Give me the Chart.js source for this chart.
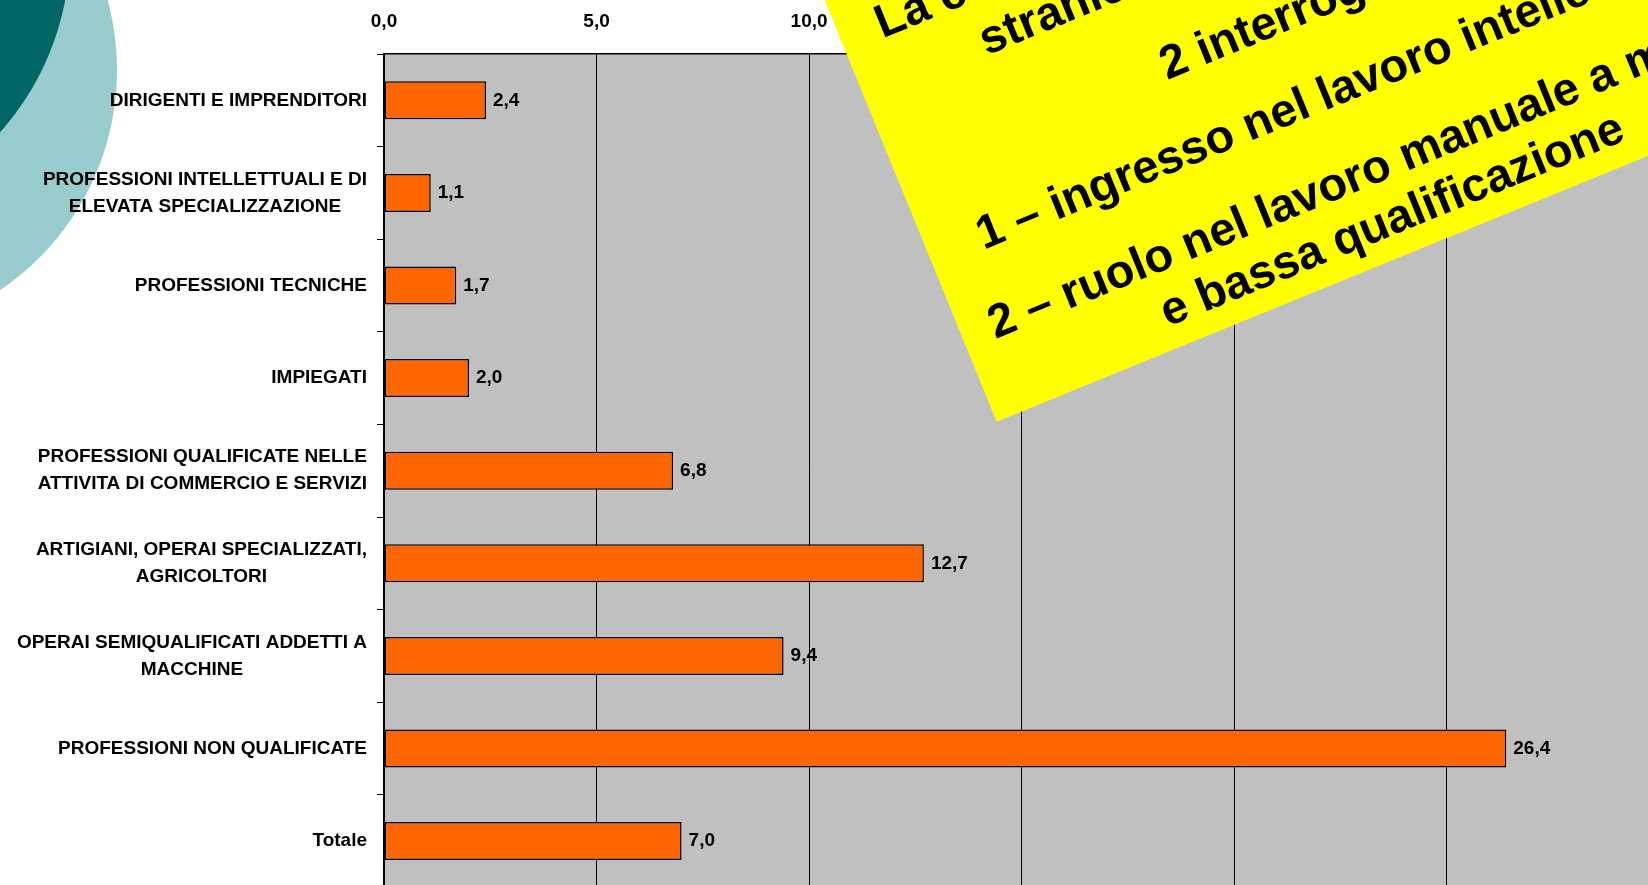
<!DOCTYPE html>
<html>
<head>
<meta charset="utf-8">
<script src="https://cdn.jsdelivr.net/npm/chart.js@4"></script>
<style>
    html, body { margin: 0; padding: 0; background: #fff; overflow: hidden; }
    #wrap { position: absolute; left: 0; top: 0; width: 1700px; height: 900px; }
</style>
</head>
<body>
<div id="wrap"><canvas id="chart"></canvas></div>
<script>
const categories = [
    "DIRIGENTI E IMPRENDITORI",
    ["PROFESSIONI INTELLETTUALI E DI", "ELEVATA SPECIALIZZAZIONE"],
    "PROFESSIONI TECNICHE",
    "IMPIEGATI",
    ["PROFESSIONI QUALIFICATE NELLE", "ATTIVITA DI COMMERCIO E SERVIZI"],
    ["ARTIGIANI, OPERAI SPECIALIZZATI,", "AGRICOLTORI"],
    ["OPERAI SEMIQUALIFICATI ADDETTI A", "MACCHINE"],
    "PROFESSIONI NON QUALIFICATE",
    "Totale",
];
const values = [2.4, 1.1, 1.7, 2.0, 6.8, 12.7, 9.4, 26.4, 7.0];
const xTicks = [0, 5, 10, 15, 20, 25, 30];

// testo del riquadro giallo: [riga, distanza dal bordo sinistro, altezza della linea di base]
const noteLines = [
    ["La condizione occupazionale degli", 39, 398],
    ["stranieri in Italia solleva", 129, 343],
    ["2 interrogativi:", 287, 252],
    ["1 \u2013 ingresso nel lavoro intellettuale", 53, 164],
    ["2 \u2013 ruolo nel lavoro manuale a media", 30, 77],
    ["e bassa qualificazione", 194, 23],
];

const FONT = "'Liberation Sans', Arial, sans-serif";
const fmt = (v) => v.toFixed(1).replace(".", ",");

const background = {
    id: "background",
    beforeDraw(chart) {
        const { ctx, chartArea } = chart;
        ctx.save();
        ctx.fillStyle = "#99CCCC";
        ctx.beginPath();
        ctx.arc(-149, 70, 266, 0, Math.PI * 2);
        ctx.fill();
        ctx.fillStyle = "#006666";
        ctx.beginPath();
        ctx.arc(-205, -51, 275, 0, Math.PI * 2);
        ctx.fill();
        ctx.fillStyle = "#C0C0C0";
        ctx.fillRect(chartArea.left, chartArea.top, chartArea.right - chartArea.left, chartArea.bottom - chartArea.top);
        ctx.restore();
    },
};

const labels = {
    id: "labels",
    afterDatasetsDraw(chart) {
        const { ctx, chartArea } = chart;
        const yScale = chart.scales.y;
        ctx.save();
        ctx.font = `bold 19px ${FONT}`;
        ctx.fillStyle = "#000";
        ctx.textBaseline = "middle";

        // etichette delle categorie: blocco allineato a destra, righe centrate
        categories.forEach((label, i) => {
            const lines = Array.isArray(label) ? label : [label];
            const y = yScale.getPixelForValue(i);
            const w = Math.max(...lines.map((l) => ctx.measureText(l).width));
            const cx = chartArea.left - 17 - w / 2;
            ctx.textAlign = "center";
            lines.forEach((line, j) => {
                ctx.fillText(line, cx, y + (j - (lines.length - 1) / 2) * 27);
            });
        });

        // valori a fianco delle barre
        ctx.textAlign = "left";
        chart.getDatasetMeta(0).data.forEach((bar, i) => {
            ctx.fillText(fmt(values[i]), bar.x + 7, bar.y);
        });
        ctx.restore();
    },
};

const note = {
    id: "note",
    afterDraw(chart) {
        const { ctx } = chart;
        ctx.save();
        ctx.translate(996.7, 421.7);
        ctx.rotate((-22.2 * Math.PI) / 180);
        ctx.fillStyle = "#FFFF00";
        ctx.fillRect(0, -560, 1000, 560);
        ctx.fillStyle = "#000";
        ctx.font = `bold 47px ${FONT}`;
        ctx.textAlign = "left";
        ctx.textBaseline = "alphabetic";
        noteLines.forEach(([text, s, t]) => ctx.fillText(text, s, -t));
        ctx.restore();
    },
};

new Chart(document.getElementById("chart"), {
    type: "bar",
    data: {
        labels: categories,
        datasets: [{
            data: values,
            backgroundColor: "#FF6600",
            borderColor: "#000",
            borderWidth: 1.5,
            borderSkipped: false,
            barPercentage: 0.41,
            categoryPercentage: 1,
        }],
    },
    options: {
        indexAxis: "y",
        responsive: true,
        maintainAspectRatio: false,
        animation: false,
        layout: { padding: { left: 0, top: 0, right: 40.7, bottom: 12.6 } },
        plugins: { legend: { display: false }, tooltip: { enabled: false } },
        scales: {
            x: {
                position: "top",
                min: xTicks[0],
                max: xTicks[xTicks.length - 1],
                afterBuildTicks: (scale) => { scale.ticks = xTicks.map((v) => ({ value: v })); },
                afterFit: (scale) => { scale.height = 54; },
                ticks: {
                    color: "#000",
                    padding: 21,
                    font: { family: FONT, size: 19, weight: "bold" },
                    callback: (v) => fmt(v),
                },
                grid: { color: "#000", lineWidth: 1, drawTicks: false },
                border: { color: "#000", width: 1.5 },
            },
            y: {
                afterFit: (scale) => { scale.width = 384; },
                ticks: { display: false },
                grid: { color: "#000", lineWidth: 1, drawOnChartArea: false, drawTicks: true, tickLength: 7, offset: true },
                border: { color: "#000", width: 1.5 },
            },
        },
    },
    plugins: [background, labels, note],
});
</script>
</body>
</html>
